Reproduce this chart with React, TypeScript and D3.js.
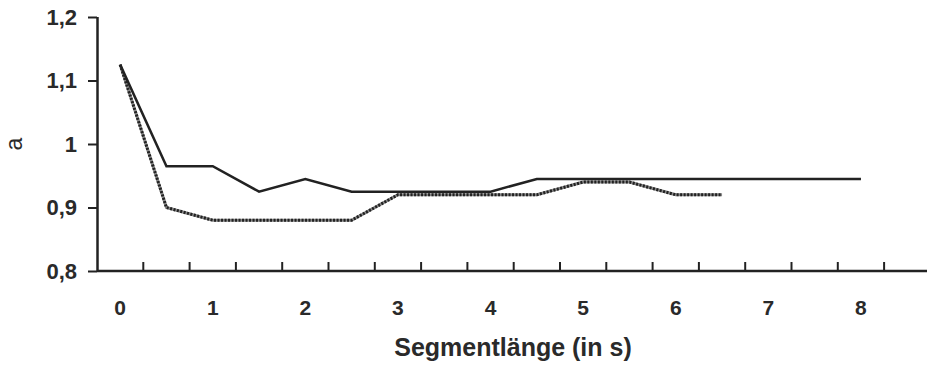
// App.tsx - Segmentlänge chart
import React, {useRef, useEffect} from 'react';
import * as d3 from 'd3';

// data
const categories = ['0','0,5','1','1,5','2','2,5','3','3,5','4','4,5','5','5,5','6','6,5','7','7,5','8','8,5'];
const xTickLabels = ['0','1','2','3','4','5','6','7','8'];
const solidSeries = [1.125, 0.965, 0.965, 0.925, 0.945, 0.925, 0.925, 0.925, 0.925, 0.945, 0.945, 0.945, 0.945, 0.945, 0.945, 0.945, 0.945];
const dottedSeries = [1.125, 0.9, 0.88, 0.88, 0.88, 0.88, 0.92, 0.92, 0.92, 0.92, 0.94, 0.94, 0.92, 0.92];
const yTicks = [0.8, 0.9, 1.0, 1.1, 1.2];

const width = 927;
const height = 369;
const font = '"Liberation Sans", Arial, sans-serif';

export default function App(){
    const svgRef = useRef<SVGSVGElement>(null);

    useEffect(() => {
        const svg = d3.select(svgRef.current);
        svg.selectAll('*').remove();

        // scales
        const xScale = d3.scaleBand<string>()
            .domain(categories)
            .range([97, 97 + categories.length * 46.3])
            .padding(0);
        const yScale = d3.scaleLinear()
            .domain([0.8, 1.2])
            .range([271, 17]);
        const cx = (i: number) => (xScale(categories[i]) as number) + xScale.bandwidth() / 2;

        // y axis
        const yAxis = d3.axisLeft(yScale)
            .tickValues(yTicks)
            .tickSize(9)
            .tickPadding(11)
            .tickFormat((d) => d3.format('.1f')(d as number).replace('.', ',').replace(/^1,0$/, '1'));
        const gy = svg.append('g')
            .attr('transform', 'translate(97,0)')
            .call(yAxis);
        gy.select('.domain').attr('stroke', '#222').attr('stroke-width', 2.5).attr('d', `M0.5,${yScale(1.2)}V${yScale(0.8)}`);
        gy.selectAll('.tick line').attr('stroke', '#222').attr('stroke-width', 2);
        gy.selectAll('.tick text')
            .attr('fill', '#2a2a2a')
            .style('font-family', font)
            .style('font-size', '22px')
            .style('font-weight', 'bold');

        // x axis line
        svg.append('line')
            .attr('x1', 97).attr('x2', width)
            .attr('y1', yScale(0.8)).attr('y2', yScale(0.8))
            .attr('stroke', '#222').attr('stroke-width', 2.5);

        // x ticks at category borders
        svg.append('g').selectAll('line')
            .data(categories.slice(1))
            .enter()
            .append('line')
            .attr('x1', (d) => xScale(d) as number)
            .attr('x2', (d) => xScale(d) as number)
            .attr('y1', yScale(0.8))
            .attr('y2', yScale(0.8) - 9)
            .attr('stroke', '#222').attr('stroke-width', 2);

        // x labels
        svg.append('g').selectAll('text')
            .data(xTickLabels)
            .enter()
            .append('text')
            .attr('x', (d) => (xScale(d) as number) + xScale.bandwidth() / 2)
            .attr('y', 315)
            .attr('text-anchor', 'middle')
            .attr('fill', '#2a2a2a')
            .style('font-family', font)
            .style('font-size', '21px')
            .style('font-weight', 'bold')
            .text((d) => d);

        // axis titles
        svg.append('text')
            .attr('x', 513)
            .attr('y', 356)
            .attr('text-anchor', 'middle')
            .attr('fill', '#2a2a2a')
            .style('font-family', font)
            .style('font-size', '25px')
            .style('font-weight', 'bold')
            .text('Segmentlänge (in s)');
        svg.append('text')
            .attr('transform', `translate(22,${yScale(1.0)}) rotate(-90)`)
            .attr('text-anchor', 'middle')
            .attr('fill', '#2a2a2a')
            .style('font-family', font)
            .style('font-size', '23px')
            .text('a');

        // lines
        const line = d3.line<number>()
            .x((d, i) => cx(i))
            .y((d) => yScale(d));
        svg.append('path')
            .attr('d', line(dottedSeries))
            .attr('fill', 'none')
            .attr('stroke', '#888')
            .attr('stroke-width', 3);
        svg.append('path')
            .attr('d', line(dottedSeries))
            .attr('fill', 'none')
            .attr('stroke', '#222')
            .attr('stroke-width', 3)
            .attr('stroke-dasharray', '2,1.5');
        svg.append('path')
            .attr('d', line(solidSeries))
            .attr('fill', 'none')
            .attr('stroke', '#222')
            .attr('stroke-width', 2.5);
    }, []);

    return(
        <svg ref={svgRef} width={width} height={height}
            style={{position: 'absolute', left: 0, top: 0, background: '#fff'}} />
    )
}
